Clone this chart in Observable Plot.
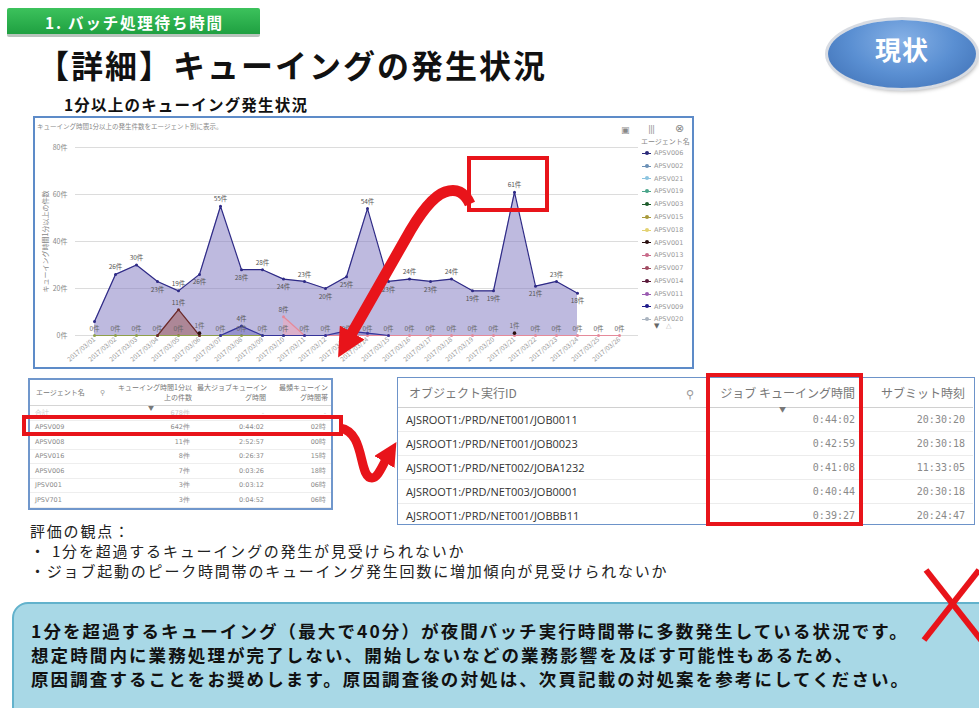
<!DOCTYPE html>
<html><head><meta charset="utf-8">
<script src="https://cdn.jsdelivr.net/npm/d3@7"></script>
<script src="https://cdn.jsdelivr.net/npm/@observablehq/plot@0.6"></script>
<style>
body{margin:0;background:#fff;font-family:"Noto Sans CJK JP","Noto Sans",sans-serif;}
#page{position:relative;width:979px;height:708px;overflow:hidden;background:#fff;}
.abs{position:absolute;}
#tab{left:7px;top:8px;width:253px;height:29px;background:linear-gradient(#3cc25c,#1fa041);border-bottom:3px solid #b9c4bd;border-radius:2px;color:#fff;font-weight:700;font-size:15.5px;letter-spacing:1.8px;line-height:29px;padding-left:38px;box-sizing:border-box;}
#title{left:37px;top:40px;font-size:32px;font-weight:700;letter-spacing:2px;color:#111;white-space:nowrap;line-height:48px;}
#badge{left:828px;top:20px;width:148px;height:68px;border-radius:50%;background:radial-gradient(ellipse at 50% 30%,#86b1e6 0%,#5a8fd2 50%,#3c6db2 100%);box-shadow:0 0 0 3px #d7dbe2,2px 3px 4px rgba(0,0,0,.35);color:#fff;font-weight:700;font-size:26px;text-align:center;line-height:58px;letter-spacing:1px;}
#subtitle{left:64px;top:93px;font-size:15.5px;font-weight:700;letter-spacing:1.2px;color:#111;white-space:nowrap;line-height:22px;}
#chartbox{left:33px;top:116px;width:661px;height:253px;border:2px solid #5d8bc8;box-sizing:border-box;background:#fff;}
#caption{left:37px;top:121px;font-size:6.5px;color:#888;white-space:nowrap;}
#plot{left:35px;top:135px;}
.leg{position:absolute;left:642px;font-size:6.5px;color:#999;white-space:nowrap;font-family:"DejaVu Sans",sans-serif;}
.leg i{display:inline-block;width:9px;height:1px;vertical-align:middle;margin-right:3px;position:relative;}
.leg i b{position:absolute;left:2.5px;top:-2px;width:4px;height:4px;border-radius:50%;}
table{border-collapse:collapse;table-layout:fixed;}
#lt{left:28px;top:378px;width:305px;height:132px;border:2px solid #7097cc;box-sizing:border-box;overflow:hidden;background:#fff;}
#lt td,#lt th{font-size:7.5px;color:#8a8a8a;font-weight:400;padding:0 5px;white-space:nowrap;overflow:hidden;}
#lt th{height:25px;border-bottom:1px solid #d5d5d5;text-align:right;line-height:9.5px;color:#777;vertical-align:middle;font-size:7px;padding:0 3px 0 2px;}
#lt td{height:13.5px;border-bottom:1px solid #eee;text-align:right;line-height:12px;font-family:"DejaVu Sans",sans-serif;font-size:6.5px;}
#lt td.n{text-align:left;}
#rt{left:397px;top:377px;width:578px;height:148px;border:1.5px solid #6d93c9;box-sizing:border-box;overflow:hidden;background:#fff;}
#rt th{height:29px;border-bottom:1px solid #d0d0d0;font-size:12px;font-weight:400;color:#777;text-align:right;padding:0 8px 0 0;white-space:nowrap;line-height:16px;}
#rt td{height:23px;border-bottom:1px solid #ececec;font-size:10px;color:#8a8a8a;text-align:right;padding:0 8px 0 0;font-family:"DejaVu Sans Mono",monospace;white-space:nowrap;line-height:14px;}
#rt td.id{font-family:"Open Sans","Noto Sans",sans-serif;font-size:11px;color:#333;text-align:left;padding-left:8px;}
#eval{left:30px;top:521px;font-size:15px;color:#222;letter-spacing:1.8px;line-height:20px;white-space:nowrap;}
#concl{left:12px;top:602px;width:1000px;height:130px;border-radius:16px;background:#a8d8e6;border:2px solid #62b2cc;box-sizing:border-box;padding:15px 0 0 17px;font-size:17.5px;font-weight:700;color:#111;line-height:24px;letter-spacing:2.1px;white-space:nowrap;}
#overlay{position:absolute;left:0;top:0;pointer-events:none;}
</style></head>
<body><div id="page">
<div id="tab" class="abs">1. バッチ処理待ち時間</div>
<div id="title" class="abs">【詳細】キューイングの発生状況</div>
<div id="badge" class="abs">現状</div>
<div id="subtitle" class="abs">1分以上のキューイング発生状況</div>
<div id="chartbox" class="abs"></div>
<div id="caption" class="abs">キューイング時間1分以上の発生件数をエージェント別に表示。</div>
<div id="legend"></div>
<div id="plot" class="abs"></div>
<div id="lt" class="abs"></div>
<div id="rt" class="abs"></div>
<div id="eval" class="abs"></div>
<div id="concl" class="abs"></div>
<svg id="overlay" width="979" height="708">
<defs><marker id="ah" viewBox="0 0 10 10" refX="3" refY="5" markerWidth="2.6" markerHeight="2.6" orient="auto"><path d="M0,0 L10,5 L0,10 z" fill="#e8141a"/></marker></defs>
<rect x="469" y="158" width="78" height="52" fill="none" stroke="#e8141a" stroke-width="4"/>
<rect x="708" y="375" width="153" height="149" fill="none" stroke="#e8141a" stroke-width="4"/>
<rect x="24" y="417" width="317" height="17" fill="none" stroke="#e8141a" stroke-width="4"/>
<path d="M 470 204 Q 462 186 445 192 Q 428 198 405 240 L 348 340" stroke="#e8141a" stroke-width="11" fill="none" marker-end="url(#ah)"/>
<path d="M 340 428 C 366 432, 358 478, 372 478 C 378 478, 382 466, 388 456" stroke="#e8141a" stroke-width="9" fill="none" marker-end="url(#ah)"/>
<line x1="926" y1="570" x2="985" y2="645" stroke="#e8141a" stroke-width="6"/>
<line x1="979" y1="570" x2="924" y2="640" stroke="#e8141a" stroke-width="6"/>
</svg>
</div>
<script>
// ---- chart data ----
const dates = ["2017/03/01","2017/03/02","2017/03/03","2017/03/04","2017/03/05","2017/03/06","2017/03/07","2017/03/08","2017/03/09","2017/03/10","2017/03/11","2017/03/12","2017/03/13","2017/03/14","2017/03/15","2017/03/16","2017/03/17","2017/03/18","2017/03/19","2017/03/20","2017/03/21","2017/03/22","2017/03/23","2017/03/24","2017/03/25","2017/03/26"];
const APSV009 = [6,26,30,23,19,26,55,28,28,24,23,20,25,54,23,24,23,24,19,19,61,21,23,18,null,null];
const APSV003 = [0,0,0,0,0,0,0,0,0,0,null,null,null,null,null,null,null,null,null,null,null,null,null,null,null,null];
const APSV008 = [null,null,null,0,11,0,null,null,null,null,null,null,null,null,null,null,null,null,null,null,null,null,null,null,null,null];
const APSV016 = [null,null,null,null,null,null,null,null,null,8,0,0,0,0,0,0,0,0,0,0,0,0,0,0,0,0];
const APSV006 = [null,null,null,null,null,null,0,4,0,0,0,0,2,1,0,null,null,null,null,null,null,null,null,null,null,null];
const APSV001 = [0,0,0,0,0,1,0,0,0,0,0,0,0,0,0,0,0,0,0,0,1,0,0,0,0,0];
const yTicks = [0,20,40,60,80];
const legendAgents = ["APSV006","APSV002","APSV021","APSV019","APSV003","APSV015","APSV018","APSV001","APSV013","APSV007","APSV014","APSV011","APSV009","APSV020"];

// ---- table data ----
const ltHeaders = ["エージェント名","キューイング時間1分以上の件数","最大ジョブキューイング時間","最頻キューイング時間帯"];
const ltAgents = ["合計","APSV009","APSV008","APSV016","APSV006","JPSV001","JPSV701"];
const ltCounts = ["678件","642件","11件","8件","7件","3件","3件"];
const ltMax = ["-","0:44:02","2:52:57","0:26:37","0:03:26","0:03:12","0:04:52"];
const ltMode = ["-","02時","00時","15時","18時","06時","06時"];
const rtHeaders = ["オブジェクト実行ID","ジョブ キューイング時間","サブミット時刻"];
const jobIds = ["AJSROOT1:/PRD/NET001/JOB0011","AJSROOT1:/PRD/NET001/JOB0023","AJSROOT1:/PRD/NET002/JOBA1232","AJSROOT1:/PRD/NET003/JOB0001","AJSROOT1:/PRD/NET001/JOBBB11"];
const jobQueue = ["0:44:02","0:42:59","0:41:08","0:40:44","0:39:27"];
const jobSubmit = ["20:30:20","20:30:18","11:33:05","20:30:18","20:24:47"];
const evalLines = ["評価の観点：","・ 1分を超過するキューイングの発生が見受けられないか","・ジョブ起動のピーク時間帯のキューイング発生回数に増加傾向が見受けられないか"];
const conclLines = ["1分を超過するキューイング（最大で40分）が夜間バッチ実行時間帯に多数発生している状況です。","想定時間内に業務処理が完了しない、開始しないなどの業務影響を及ぼす可能性もあるため、","原因調査することをお奨めします。原因調査後の対処は、次頁記載の対処案を参考にしてください。"];

// ---- styles (not data) ----
const legendColors = {APSV006:"#2b2a7a",APSV002:"#6a8fb5",APSV021:"#8cc4e0",APSV019:"#4aa58a",APSV003:"#1d5b2b",APSV015:"#a89a3a",APSV018:"#e3d272",APSV001:"#2a1010",APSV013:"#c86a8a",APSV007:"#a04a60",APSV014:"#5a1a3a",APSV011:"#9a5ab0",APSV009:"#1e1a8a",APSV020:"#aab4c0"};
const seriesDraw = [
  {name:"APSV009", vals:APSV009, stroke:"#2e2a86", fill:"#7d76c0", op:0.5},
  {name:"APSV003", vals:APSV003, stroke:"#8fa04a", fill:"#8fa04a", op:0},
  {name:"APSV008", vals:APSV008, stroke:"#6b2a2a", fill:"#9a4a40", op:0.45},
  {name:"APSV016", vals:APSV016, stroke:"#e58a9a", fill:"#f2a8b8", op:0.55},
  {name:"APSV006", vals:APSV006, stroke:"#34349a", fill:"#5a5ab5", op:0.4},
  {name:"APSV001", vals:APSV001, stroke:"#2a1010", fill:"#2a1010", op:0}
];

const toRows = (name, vals) => vals.map((v,i)=>({series:name, date:dates[i], value:v, i})).filter(d=>d.value!=null);
const others = [APSV008, APSV016, APSV006];

const marks = [
  Plot.gridY(yTicks, {stroke:"#dcdcdc", strokeOpacity:1}),
  Plot.axisY(yTicks, {tickSize:0, tickPadding:8, tickFormat:d=>d+"件", label:"キューイング時間1分以上の件数", labelAnchor:"center", labelArrow:"none", labelOffset:32, fontSize:7, color:"#888"}),
  Plot.axisX({tickSize:0, tickRotate:-40, tickPadding:3, label:null, fontSize:6.5, color:"#999"})
];
for (const s of seriesDraw) {
  const r = toRows(s.name, s.vals);
  if (s.op > 0) marks.push(Plot.areaY(r, {x:"date", y:"value", fill:s.fill, fillOpacity:s.op}));
  if (s.name === "APSV001") {
    marks.push(Plot.dot(r.filter(d=>d.value>0), {x:"date", y:"value", r:1.8, fill:s.stroke}));
  } else {
    marks.push(Plot.lineY(r, {x:"date", y:"value", stroke:s.stroke, strokeWidth:1.2}));
    marks.push(Plot.dot(r, {x:"date", y:"value", r:1.5, fill:s.stroke}));
  }
}
// main series labels: above at local highs, below at local lows unless another series sits just below
const mainRows = toRows("APSV009", APSV009).map(d=>{
  const nb = [APSV009[d.i-1], APSV009[d.i+1]].filter(v=>v!=null);
  const avg = nb.reduce((a,b)=>a+b,0)/nb.length;
  const crowded = others.some(a=>a[d.i]!=null && a[d.i]>0 && d.value - a[d.i] < 12);
  return {...d, above: d.value >= avg || crowded};
}).filter(d=>d.value>=10);
marks.push(Plot.text(mainRows.filter(d=>d.above), {x:"date", y:"value", text:d=>d.value+"件", dy:-7, fontSize:6.5, fill:"#555"}));
marks.push(Plot.text(mainRows.filter(d=>!d.above), {x:"date", y:"value", text:d=>d.value+"件", dy:8, fontSize:6.5, fill:"#555"}));
// minor peaks
const minor = [...toRows("APSV008",APSV008), ...toRows("APSV016",APSV016), ...toRows("APSV006",APSV006)].filter(d=>d.value>=4);
marks.push(Plot.text(minor, {x:"date", y:"value", text:d=>d.value+"件", dy:-7, fontSize:6.5, fill:"#555"}));
// bottom row labels
marks.push(Plot.text(toRows("APSV001",APSV001), {x:"date", y:"value", text:d=>d.value+"件", dy:-7, fontSize:6.5, fill:"#666"}));

const chart = Plot.plot({
  width:605, height:232,
  marginLeft:40, marginRight:2, marginTop:12, marginBottom:32,
  style:{fontFamily:"'Noto Sans CJK JP', sans-serif", background:"transparent", color:"#888", fontSize:"7px"},
  x:{type:"point", domain:dates, padding:0.5},
  y:{domain:[0,80]},
  marks
});
document.getElementById("plot").appendChild(chart);

// legend
const lg = document.getElementById("legend");
let html = '<div class="leg" style="top:125px;left:621px;font-size:9px;color:#888">&#9635;</div>';
html += '<div class="leg" style="top:124px;left:648px;font-size:9px;color:#999;letter-spacing:-1px">|||</div>';
html += '<div class="leg" style="top:122px;left:675px;font-size:11px;color:#888">&#8855;</div>';
html += '<div class="leg" style="top:136px;left:641px;font-size:7px;color:#888;font-family:\'Noto Sans CJK JP\'">エージェント名</div>';
legendAgents.forEach((a,k)=>{
  const c = legendColors[a];
  html += `<div class="leg" style="top:${149+k*12.8}px"><i style="background:${c}"><b style="background:${c}"></b></i>${a}</div>`;
});
html += '<div class="leg" style="top:322px;left:654px;font-size:7px;color:#666">&#9660;&nbsp;&nbsp;&nbsp;<span style="color:#bbb">&#9651;</span></div>';
lg.innerHTML = html;

// left table
let t = '<table style="width:301px"><colgroup><col style="width:82px"><col style="width:83px"><col style="width:74px"><col style="width:62px"></colgroup>';
t += `<tr><th style="text-align:left;padding-left:6px">${ltHeaders[0]} <span style="margin-left:14px;color:#999">&#9906;</span></th><th>キューイング時間1分以<br>上の件数</th><th>最大ジョブキューイン<br>グ時間</th><th>最頻キューイン<br>グ時間帯</th></tr>`;
ltAgents.forEach((a,k)=>{
  const st = k===0 ? ' style="color:#c8c8c8"' : '';
  t += `<tr><td class="n"${st}>${a}</td><td${st}>${ltCounts[k]}</td><td${st}>${ltMax[k]}</td><td${st}>${ltMode[k]}</td></tr>`;
});
t += '</table><div style="position:absolute;left:118px;top:23px;font-size:6px;color:#777">&#9660;</div>';
document.getElementById("lt").innerHTML = t;

// right table
let r = '<table style="width:575px"><colgroup><col style="width:308px"><col style="width:157px"><col style="width:110px"></colgroup>';
r += `<tr><th style="text-align:left;padding-left:11px">${rtHeaders[0]}<span style="float:right;margin-right:4px;color:#999;font-size:11px">&#9906;</span></th><th>${rtHeaders[1]}</th><th>${rtHeaders[2]}</th></tr>`;
jobIds.forEach((id,k)=>{
  r += `<tr><td class="id">${id}</td><td>${jobQueue[k]}</td><td>${jobSubmit[k]}</td></tr>`;
});
r += '</table><div style="position:absolute;left:381px;top:26px;font-size:7px;color:#777">&#9660;</div>';
document.getElementById("rt").innerHTML = r;

document.getElementById("eval").innerHTML = evalLines.join("<br>");
document.getElementById("concl").innerHTML = conclLines.join("<br>");
</script>
</body></html>
